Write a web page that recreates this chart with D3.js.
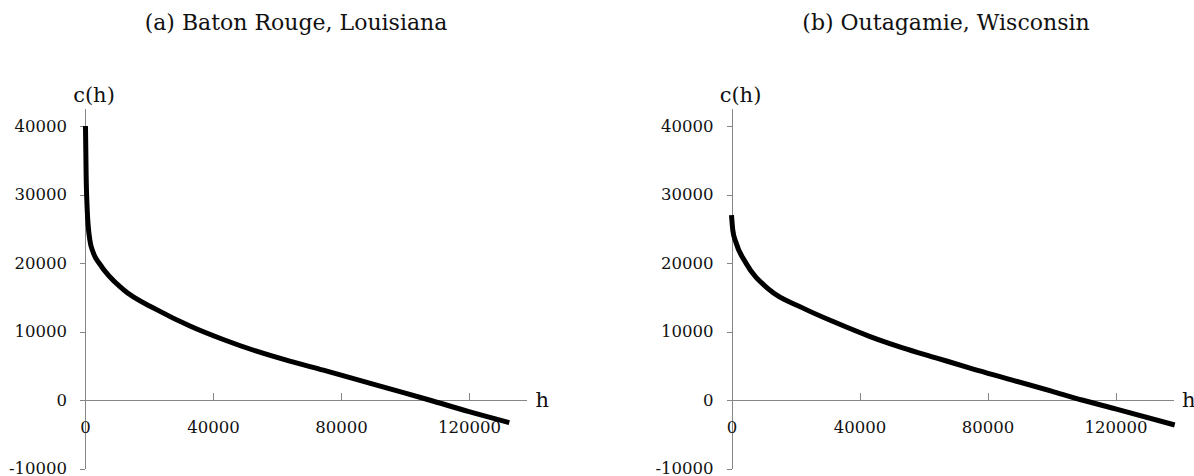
<!DOCTYPE html>
<html>
<head>
  <meta charset="utf-8">
  <title>c(h) curves</title>
  <style>
    html, body { margin: 0; padding: 0; background: #fff; }
    svg text { font-family: "DejaVu Serif", serif; }
    .axis path, .axis line { stroke: #868686; stroke-width: 1; shape-rendering: crispEdges; }
    .axis text { fill: #111; font-size: 16.5px; }
  </style>
  <script src="https://cdnjs.cloudflare.com/ajax/libs/d3/7.8.5/d3.min.js"></script>
</head>
<body>
<svg id="chart" width="1194" height="476"></svg>

<script>

  // values: h (x) and c(h) (y)
  var rougeH = [150, 350, 700, 1500, 2600, 4700, 12000, 22400, 32800, 43200, 53600, 64000, 74500, 97000, 107600, 120000, 132600];
  var rougeC = [40000, 33000, 27700, 23400, 21500, 19800, 16100, 13200, 10800, 8830, 7120, 5670, 4350, 1400, 0, -1700, -3300];

  var outaH = [0, 400, 1400, 4500, 11800, 22200, 32700, 43100, 53500, 63900, 74300, 100000, 109500, 120000, 138500];
  var outaC = [27000, 24800, 23000, 20000, 16100, 13450, 11270, 9300, 7620, 6160, 4700, 1300, 0, -1300, -3650];

  var xTicks = [0, 40000, 80000, 120000];
  var yTicks = [-10000, 0, 10000, 20000, 30000, 40000];

  var panels = [
    { title: "(a) Baton Rouge, Louisiana", titleX: 296, left: 85,    h: rougeH, c: rougeC },
    { title: "(b) Outagamie, Wisconsin",   titleX: 946, left: 731.5, h: outaH,  c: outaC }
  ];

  // plain hyphen for negatives, like the original
  var fmt = function (d) { return String(d); };

  var svg = d3.select("#chart");

  // same vertical scale for both panels
  var y = d3.scaleLinear().domain([-10000, 42500]).range([468.5, 108.9]);

  panels.forEach(function (p) {
    var x = d3.scaleLinear().domain([0, 138000]).range([p.left, p.left + 138000 * 0.0032]);
    var g = svg.append("g");

    g.append("text")
      .attr("x", p.titleX).attr("y", 30)
      .attr("text-anchor", "middle")
      .style("font-size", "22px")
      .style("fill", "#111")
      .text(p.title);

    // y axis (ticks outside, to the left)
    g.append("g")
      .attr("class", "axis")
      .attr("transform", "translate(" + p.left + ",0)")
      .call(d3.axisLeft(y).tickValues(yTicks).tickSize(5).tickSizeOuter(0).tickPadding(13)
        .tickFormat(fmt));

    // x axis through c = 0, ticks pointing up
    g.append("g")
      .attr("class", "axis")
      .attr("transform", "translate(0," + y(0) + ")")
      .call(d3.axisBottom(x).tickValues(xTicks).tickSize(-7).tickSizeOuter(0).tickPadding(21)
        .tickFormat(fmt));

    g.append("text")
      .attr("x", p.left + 9).attr("y", 102)
      .attr("text-anchor", "middle")
      .style("font-size", "21px").style("fill", "#111")
      .text("c(h)");

    g.append("text")
      .attr("x", x(138000) + 9).attr("y", 407)
      .style("font-size", "21px").style("fill", "#111")
      .text("h");

    var pts = p.h.map(function (d, i) { return [d, p.c[i]]; });
    var line = d3.line()
      .x(function (d) { return x(d[0]); })
      .y(function (d) { return y(d[1]); })
      .curve(d3.curveMonotoneX);

    g.append("path")
      .datum(pts)
      .attr("d", line)
      .attr("fill", "none")
      .attr("stroke", "#000")
      .attr("stroke-width", 5);
  });

</script>
</body>
</html>
